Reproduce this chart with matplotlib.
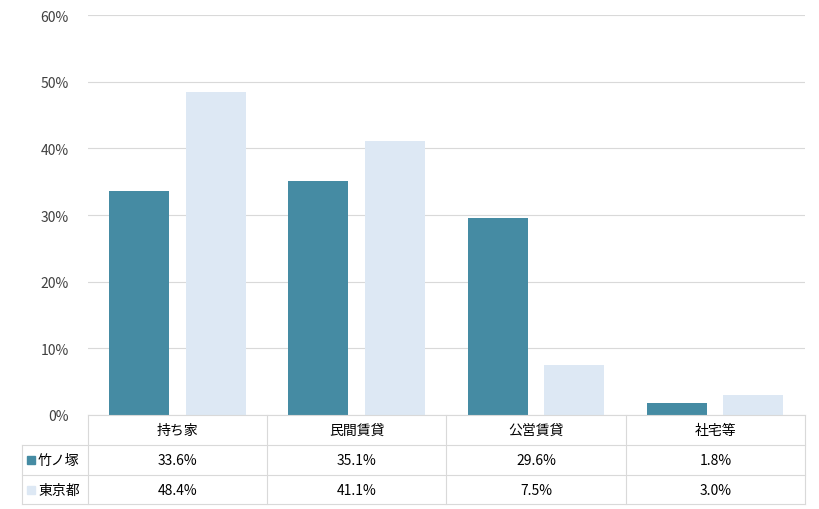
import matplotlib
matplotlib.use("Agg")
import matplotlib.pyplot as plt
from matplotlib.patches import Rectangle
from matplotlib.lines import Line2D
import numpy as np

plt.rcParams['font.family'] = ['Noto Sans CJK JP', 'DejaVu Sans']

categories = ['持ち家', '民間賃貸', '公営賃貸', '社宅等']
series_names = ['竹ノ塚', '東京都']
takenotsuka = [33.6, 35.1, 29.6, 1.8]
tokyo = [48.4, 41.1, 7.5, 3.0]
colors = ['#458BA3', '#DDE8F4']
grid_c = '#D9D9D9'

W, H = 820, 510
fig = plt.figure(figsize=(8.2, 5.1), dpi=100)
x0, x1, ytop, ybot = 88, 805, 16, 416
ax = fig.add_axes([x0 / W, (H - ybot) / H, (x1 - x0) / W, (ybot - ytop) / H])

x = np.arange(len(categories))
bw = 0.335
ax.bar(x - 0.215, takenotsuka, bw, color=colors[0], zorder=3)
ax.bar(x + 0.212, tokyo, bw, color=colors[1], zorder=3)
ax.set_xlim(-0.5, len(categories) - 0.5)
ax.set_ylim(0, 60)
ax.set_yticks(range(0, 61, 10))
ax.set_yticklabels([f'{v}%' for v in range(0, 61, 10)], fontsize=10, color='#404040')
ax.yaxis.grid(True, color=grid_c, lw=0.8, zorder=0)
ax.tick_params(length=0, pad=14)
ax.set_xticks([])
for s in ax.spines.values():
    s.set_visible(False)

def fx(px):
    return px / W

def fy(py):
    return (H - py) / H

rows = [416, 446, 476, 505]
cols = np.linspace(x0, x1, len(categories) + 1)
lines = []
for i, r in enumerate(rows):
    lines.append(((22 if i > 0 else x0), x1, r, r))
for c in cols:
    lines.append((c, c, 416, 505))
lines.append((22, 22, 446, 505))
for a, b, c, d in lines:
    fig.add_artist(Line2D([fx(a), fx(b)], [fy(c), fy(d)], color=grid_c, lw=0.8))

for i, cat in enumerate(categories):
    cx = fx((cols[i] + cols[i + 1]) / 2)
    fig.text(cx, fy(431), cat, ha='center', va='center', fontsize=10, color='#000000')
    fig.text(cx, fy(461), f'{takenotsuka[i]:.1f}%', ha='center', va='center', fontsize=10)
    fig.text(cx, fy(491), f'{tokyo[i]:.1f}%', ha='center', va='center', fontsize=10)

for j, name in enumerate(series_names):
    yc = 461 + 30 * j
    fig.add_artist(Rectangle((fx(27), fy(yc + 4)), 8 / W, 8 / H, color=colors[j]))
    fig.text(fx(38), fy(yc), name, ha='left', va='center', fontsize=10)

fig.savefig('out.png', dpi=100)
